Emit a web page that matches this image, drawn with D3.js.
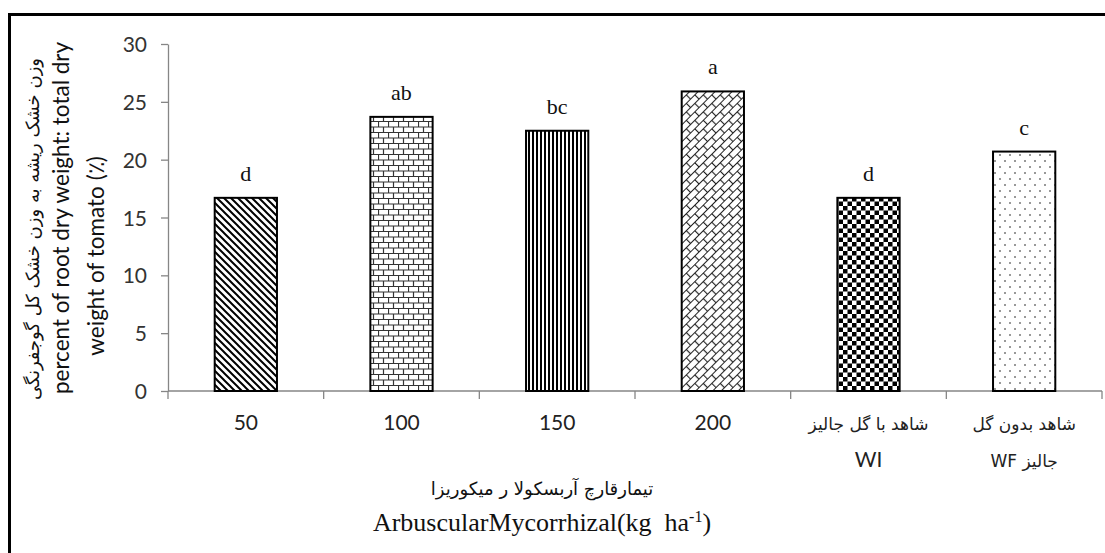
<!DOCTYPE html>
<html>
<head>
<meta charset="utf-8">
<script src="https://d3js.org/d3.v7.min.js"></script>
<style>
  html, body { margin: 0; padding: 0; background: #fff; }
  svg { display: block; }
</style>
</head>
<body>
<svg id="chart" width="1105" height="553"></svg>
<script>
// data
const categories = ["50", "100", "150", "200", "WI", "WF"];
const labelLine1 = ["50", "100", "150", "200", "شاهد با گل جالیز", "شاهد بدون گل"];
const labelLine2 = ["", "", "", "", "WI", "جالیز WF"];
const values = [16.7, 23.7, 22.5, 25.9, 16.7, 20.7];
const letters = ["d", "ab", "bc", "a", "d", "c"];
const patternIds = ["p-diag", "p-brick", "p-vert", "p-weave", "p-check", "p-dots"];
const yTicks = [0, 5, 10, 15, 20, 25, 30];

const svg = d3.select("#chart");
const W = 1105, H = 553;
const margin = { top: 44, right: 3, bottom: 162, left: 168 };
const plotW = W - margin.left - margin.right;
const plotH = H - margin.top - margin.bottom;

const serif = "'Liberation Serif', 'Times New Roman', serif";
const sans = "Lato, 'Open Sans', sans-serif";
const persian = "'DejaVu Sans', sans-serif";
const axisGrey = "#868686";

// wrap in an RTL embedding so mixed Persian/Latin lines order like the original
const rtl = s => "\u202B" + s + "\u202C";
const isPersian = s => /[\u0600-\u06FF]/.test(s);

// ---- patterns ----
const defs = svg.append("defs");

function pat(id, w, h, transform) {
    const p = defs.append("pattern")
        .attr("id", id)
        .attr("patternUnits", "userSpaceOnUse")
        .attr("width", w)
        .attr("height", h);
    if (transform) p.attr("patternTransform", transform);
    p.append("rect").attr("width", w).attr("height", h).attr("fill", "#fff");
    return p;
}

// 50: back-slash hatch
pat("p-diag", 7, 7)
    .append("path")
    .attr("d", "M-2,-2 L9,9 M-2,5 L2,9 M5,-2 L9,2")
    .attr("stroke", "#000").attr("stroke-width", 2);

// 100: horizontal bricks
const brick = pat("p-brick", 10, 11);
brick.append("path")
    .attr("d", "M0,0.5 H10 M0,6 H10 M0.5,0.5 V6 M5.5,6 V11")
    .attr("stroke", "#333").attr("stroke-width", 1.2).attr("fill", "none");

// 150: vertical lines
pat("p-vert", 4, 4)
    .append("rect").attr("x", 0).attr("width", 2).attr("height", 4).attr("fill", "#000");

// 200: diagonal bricks
const weave = pat("p-weave", 12, 12, "rotate(-45)");
weave.append("path")
    .attr("d", "M0,0.5 H12 M0,6.5 H12 M0.5,0.5 V6.5 M6.5,6.5 V12.5")
    .attr("stroke", "#222").attr("stroke-width", 1.2).attr("fill", "none");

// WI: checkerboard
const check = pat("p-check", 9, 9);
check.append("rect").attr("width", 4.5).attr("height", 4.5).attr("fill", "#000");
check.append("rect").attr("x", 4.5).attr("y", 4.5).attr("width", 4.5).attr("height", 4.5).attr("fill", "#000");

// WF: sparse dots
const dots = pat("p-dots", 10, 12);
dots.append("circle").attr("cx", 2).attr("cy", 3).attr("r", 1).attr("fill", "#777");
dots.append("circle").attr("cx", 7).attr("cy", 9).attr("r", 1).attr("fill", "#777");

// ---- frame (cropped border, top and left only) ----
svg.append("path")
    .attr("d", `M9.5,${H} V14.5 H${W}`)
    .attr("fill", "none")
    .attr("stroke", "#000")
    .attr("stroke-width", 3);

const g = svg.append("g").attr("transform", `translate(${margin.left},${margin.top})`);

const x = d3.scaleBand()
    .domain(categories)
    .range([0, plotW])
    .paddingInner(0.6)
    .paddingOuter(0.3);

const y = d3.scaleLinear().domain([0, 30]).range([plotH, 0]);

// Y axis
const yAxis = g.append("g")
    .call(d3.axisLeft(y).tickValues(yTicks).tickSize(7).tickSizeOuter(0).tickPadding(14));
yAxis.select(".domain").attr("stroke", axisGrey).attr("stroke-width", 1.3);
yAxis.selectAll(".tick line").attr("stroke", axisGrey).attr("stroke-width", 1.3);
yAxis.selectAll(".tick text")
    .style("font-family", sans)
    .style("font-size", "21px")
    .attr("fill", "#333")
    .attr("dy", "0.36em");

// X axis line and boundary ticks
const boundaries = d3.range(categories.length + 1).map(i => i * x.step());
g.append("line")
    .attr("x1", 0).attr("x2", plotW)
    .attr("y1", plotH).attr("y2", plotH)
    .attr("stroke", axisGrey).attr("stroke-width", 1.3);
g.selectAll(".xtick")
    .data(boundaries)
    .enter()
    .append("line")
    .attr("class", "xtick")
    .attr("x1", d => d).attr("x2", d => d)
    .attr("y1", plotH).attr("y2", plotH + 8)
    .attr("stroke", axisGrey).attr("stroke-width", 1.3);

// bars
g.selectAll(".bar")
    .data(values)
    .enter()
    .append("rect")
    .attr("class", "bar")
    .attr("x", (d, i) => x(categories[i]))
    .attr("y", d => y(d))
    .attr("width", x.bandwidth())
    .attr("height", d => plotH - y(d))
    .attr("fill", (d, i) => `url(#${patternIds[i]})`)
    .attr("stroke", "#000")
    .attr("stroke-width", 2);

// significance letters
g.selectAll(".letter")
    .data(values)
    .enter()
    .append("text")
    .attr("class", "letter")
    .attr("x", (d, i) => x(categories[i]) + x.bandwidth() / 2)
    .attr("y", d => y(d) - 17)
    .attr("text-anchor", "middle")
    .style("font-family", serif)
    .style("font-size", "22px")
    .attr("fill", "#111")
    .text((d, i) => letters[i]);

// category labels
categories.forEach((c, i) => {
    const cx = x(c) + x.bandwidth() / 2;
    [labelLine1[i], labelLine2[i]].forEach((t, k) => {
        if (!t) return;
        const fa = isPersian(t);
        g.append("text")
            .attr("x", cx)
            .attr("y", plotH + 39 + k * 37)
            .attr("text-anchor", "middle")
            .style("font-family", fa ? persian : sans)
            .style("font-size", fa ? "17px" : "21px")
            .attr("fill", "#222")
            .text(fa ? rtl(t) : t);
    });
});

// X axis title
svg.append("text")
    .attr("x", 542)
    .attr("y", 495)
    .attr("text-anchor", "middle")
    .style("font-family", persian)
    .style("font-size", "18px")
    .attr("fill", "#111")
    .text(rtl("تیمارقارچ آربسکولا ر میکوریزا"));

const xTitle = svg.append("text")
    .attr("x", 542)
    .attr("y", 531)
    .attr("text-anchor", "middle")
    .style("font-family", serif)
    .style("font-size", "26px")
    .style("white-space", "pre")
    .attr("fill", "#111");
xTitle.append("tspan").text("ArbuscularMycorrhizal(kg  ha");
xTitle.append("tspan").attr("dy", -9).style("font-size", "16px").text("-1");
xTitle.append("tspan").attr("dy", 9).text(")");

// Y axis title (three rotated lines)
const yTitleLines = [
    { text: rtl("وزن خشک ریشه به وزن خشک کل گوجفرنگی"), x: 39, cy: 229, font: persian, size: "18px" },
    { text: "percent of root dry weight: total dry", x: 69, cy: 218, font: sans, size: "22.5px" },
    { text: "weight of tomato (٪)", x: 104, cy: 256, font: sans, size: "22.5px" }
];
yTitleLines.forEach(l => {
    svg.append("text")
        .attr("transform", `translate(${l.x},${l.cy}) rotate(-90)`)
        .attr("text-anchor", "middle")
        .style("font-family", l.font)
        .style("font-size", l.size)
        .attr("fill", "#111")
        .text(l.text);
});
</script>
</body>
</html>
